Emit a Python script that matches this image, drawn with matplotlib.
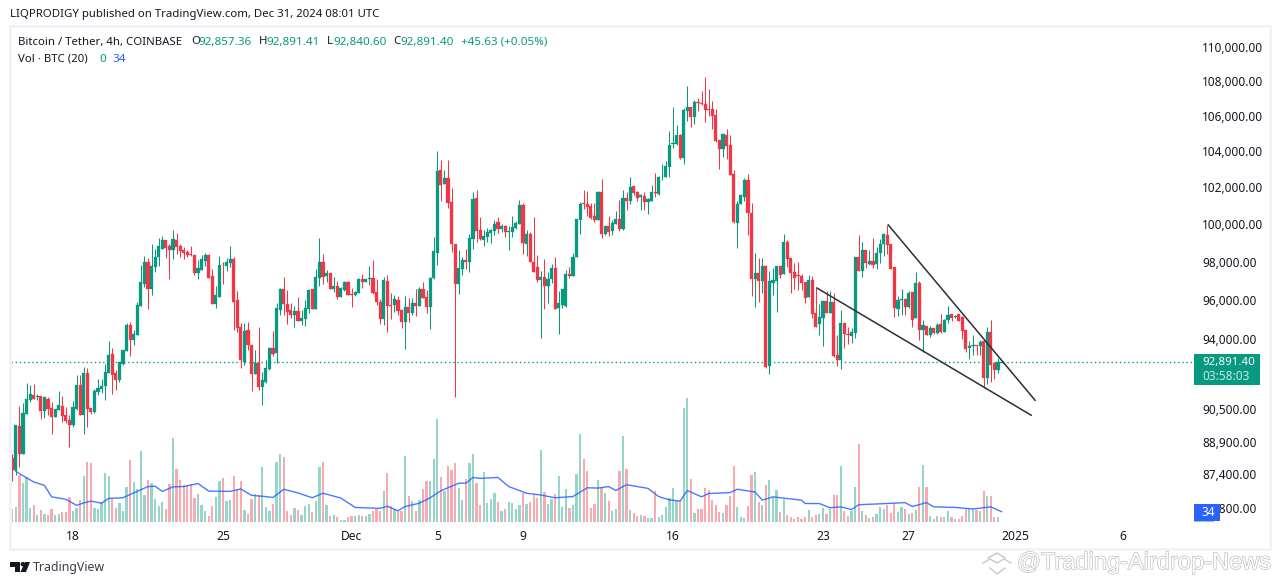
import matplotlib
matplotlib.use("Agg")
import matplotlib.pyplot as plt
import matplotlib.patheffects as pe
import matplotlib.transforms as mtrans
from matplotlib.patches import Rectangle, Polygon, Circle
import numpy as np

opens = [88220,87630,89760,88410,90340,91030,91270,91170,91220,90490,
91080,90640,90200,90540,90730,90290,90050,89810,90590,91760,
90290,92360,90640,90440,91420,91570,91720,92360,93310,92360,
92010,92810,93460,94780,94020,94270,95760,96900,98060,96640,
97800,98320,98740,99230,98910,98690,99230,98910,98690,98580,
98460,98420,97480,97640,98110,98420,97320,95860,96220,97970,
97850,98000,98210,96070,94680,92910,94530,93770,92310,92860,
91670,91910,92560,93610,93360,95550,96640,95860,95550,95290,
95500,94980,95090,95600,96640,95600,97210,98060,97320,97480,
96640,96790,96220,96590,97000,96380,96330,96430,97160,97000,
97180,97210,96480,95970,95090,97050,95790,95810,96070,95550,
94930,95710,95400,95910,95760,96640,96220,95710,97210,98530,
103040,102270,102600,101280,99010,96900,97690,98160,98060,99280,
101500,99760,99230,99390,99600,99710,100190,99820,99980,99670,
99660,99870,100090,101120,99010,99550,98060,97800,97110,97260,
96790,97160,97740,95650,95810,95760,97420,97320,98320,100300,
101230,101170,101060,100520,100300,101830,99550,99980,99710,100090,
100350,99820,101500,101340,102160,101830,101550,101610,101280,101340,
101830,101720,102680,102650,103210,104480,104500,105010,103710,106370,
106600,106030,106870,106810,106780,106470,106490,106140,104720,104210,
105010,104440,102820,100140,101170,101550,102490,100680,97160,97480,
97050,97850,92710,96950,97050,97850,97420,99120,98270,97530,
97370,97320,97000,96220,97110,95400,94830,95140,96020,95400,
95970,93260,93010,94880,94330,94220,94380,98320,97580,98690,
97950,98110,97950,98530,99010,99500,99010,97800,95600,96070,
96120,95710,96480,95140,96950,94530,94730,94270,94630,94380,
94830,94430,95035,95330,95190,95330,95190,94530,93610,93730,
93770,93710,93970,92110,94430,92860,92510,92857]

closes = [87630,89810,88410,90390,91080,91320,91080,91220,90490,91170,
90590,90200,90590,90780,90240,90000,89810,90680,91760,90290,
92360,90590,90440,91470,91620,91720,92410,93260,92260,92010,
92910,93510,94780,94020,94330,95810,97000,98060,96640,97850,
98320,98910,99230,98800,98690,99280,98850,98640,98530,98420,
98420,97480,97740,98210,98420,97210,95860,96330,97900,97930,
98060,98210,95970,94630,93010,94480,93770,92310,92860,91670,
92010,92610,93610,93310,95650,96640,95860,95450,95290,95500,
94980,95140,95650,96590,95600,97260,98060,97260,97480,96640,
96790,96220,96690,97000,96330,96350,96480,97160,97000,97160,
97210,96430,95970,95090,97110,95760,95760,96120,95500,94930,
95710,95400,95910,95760,96640,96170,95710,97210,98640,102990,
102210,102600,101230,99010,96900,97740,98160,98060,99330,101450,
99710,99280,99440,99660,99760,100090,99820,99980,99660,99710,
99920,100140,101120,99070,99550,98060,97530,97110,97260,96790,
97160,97740,95600,95910,96640,97420,97320,98320,100350,101170,
101190,101010,100410,100300,101830,99550,99980,99660,100140,100350,
99820,101500,101340,102100,101770,101500,101660,101280,101450,101830,
101790,102650,102710,103270,104440,104550,105010,103710,106430,106600,
106030,106890,106830,106780,106430,106430,106090,104670,104210,105060,
104380,102770,100190,101170,101660,102490,100680,97160,97480,97050,
97850,92660,97050,97110,97850,97370,99120,98210,97480,97210,
97340,96950,96170,97110,95350,94680,95190,96020,95400,95970,
93210,93010,94880,94330,94260,94430,98320,97580,98690,98000,
98110,97900,98530,99010,99550,98960,97690,95650,96070,96120,
95710,96430,95035,96950,94530,94780,94270,94630,94380,94780,
94430,95035,95290,95140,95240,94980,94480,93560,93710,93770,
93730,93920,92110,94430,92760,92510,92910,92891]

highs = [88410,89810,90730,90880,91860,91760,91810,91320,91220,91170,
91170,90930,90590,91470,91220,90680,90290,90980,92260,92260,
92660,92610,90640,91570,92060,92060,92810,93970,93610,92510,
92910,93510,94880,94930,94530,95970,97900,98370,98270,99010,
98740,99330,99440,99230,99010,99760,99600,99010,98850,98690,
98910,98420,98160,98420,98530,98480,97690,96790,98370,98060,
98270,98910,98320,96530,94880,94880,94930,93770,93510,94680,
92410,93010,93660,94480,95910,96690,97260,96590,95910,95760,
96220,95550,96070,96640,96640,97690,99330,98480,97640,97480,
97260,97050,96740,97050,97050,96690,96530,97210,97420,97160,
97850,98160,97160,96120,97260,97370,96430,96330,96280,95600,
96280,96170,96170,96640,96740,97000,96590,97260,99390,104100,
103600,103040,103600,102050,99010,98690,98320,98740,99550,101830,
101940,100460,99760,99870,99820,100300,100460,100090,100030,99980,
100520,100250,101390,101230,99760,99660,100460,98420,97580,98210,
97530,97950,98320,96530,96640,97640,97800,98530,100350,101280,
101940,101880,101230,101230,101880,102540,99980,100520,100300,100790,
101390,101940,101830,102650,102160,101880,101720,101830,101500,102210,
102880,102710,103380,103550,105230,106600,105570,105060,106550,107810,
106600,107010,107120,107530,108340,107640,106950,106490,104720,105060,
105340,105010,103040,101340,101720,102600,102820,101230,98530,98270,
98270,97900,97580,97740,97850,97850,99550,99230,98270,98000,
98060,97420,97000,97370,97320,96690,95860,96020,96530,96530,
96430,94270,95550,94880,94680,94630,98320,99500,99120,98690,
98690,99330,98850,99280,99600,100030,99010,97800,96280,96640,
96120,96530,96480,97530,97050,95035,94730,94730,94630,94880,
95350,95090,95760,95350,95290,95330,95240,94530,93970,94270,
93770,94020,94020,94680,95035,92910,93110,92891]

lows = [87150,87420,87810,88410,90340,90930,91080,91030,90100,90150,
90290,89370,90200,90540,89950,89900,88750,89710,90540,90290,
89370,89710,90340,90390,91270,91370,91030,92360,91320,91510,
91910,92760,93460,93210,93770,94270,95760,96760,95600,96330,
97530,97850,98740,98270,97160,98210,98480,98320,98210,98320,
98370,97370,97160,97640,97850,97210,95860,95650,96220,96900,
97580,97790,94530,94430,92610,92760,93510,91470,92310,91520,
90780,91860,92510,93210,92860,95290,95290,94830,95140,94680,
94980,94780,94730,95400,95600,95600,96790,96900,97000,96640,
96480,96120,96220,96530,96330,95690,96280,96430,96690,97000,
96850,96380,95810,94830,94780,94430,95090,95450,95290,94630,
93560,94930,95290,95240,95760,96170,95400,94580,97160,97900,
101340,102270,100950,98580,91170,96380,97370,97690,97530,98740,
99120,99230,98910,99120,99070,99500,99600,99660,99390,98690,
99390,99820,100090,98480,98370,98060,97530,97000,94120,95600,
95910,96950,95600,94330,95650,95710,97210,97320,98320,99550,
100900,100520,100350,100190,100300,99330,99500,99440,99500,100090,
99710,99760,100850,101170,101660,101340,100850,100850,100630,101340,
101550,101660,102490,102650,102650,104270,104440,103660,103380,105800,
105460,105620,106370,106720,105740,106090,105340,104610,103100,103770,
103660,102770,100140,98800,101170,101340,99500,96280,95710,95970,
96430,92610,92310,96330,95450,97210,97420,97800,96430,96640,
96590,96590,95910,96220,95140,94680,94270,93710,95400,95400,
93160,92710,92560,93610,93820,93870,94120,97580,97260,97740,
97900,97740,97690,98000,98370,98480,97690,95190,95240,95290,
95290,95650,94680,95140,94020,93410,94270,94170,94330,94330,
94380,94430,94880,94980,95140,94980,94070,93410,93060,93260,
93260,93260,91620,91810,91910,92060,92360,92841]

volumes = [42,48,154,128,147,45,55,22,39,25,
22,42,22,25,32,32,81,35,45,72,
151,197,194,45,42,65,161,151,75,45,
62,35,114,204,131,109,233,88,138,128,
75,53,65,42,124,276,174,138,121,121,
124,78,91,55,35,19,52,81,134,144,
68,72,151,110,134,39,25,75,91,88,
180,48,35,58,197,223,213,35,22,45,
39,24,52,58,32,68,180,197,55,19,
22,15,7,7,17,20,20,23,20,20,
26,36,43,36,102,162,53,43,36,36,
218,86,69,36,73,109,135,135,208,340,
149,102,185,172,195,112,73,142,195,224,
129,56,165,63,76,96,66,36,43,66,
63,43,56,96,59,66,89,79,238,99,
59,76,92,152,50,109,46,56,158,290,
208,168,46,59,139,112,96,69,36,43,
168,284,175,40,30,20,23,20,13,13,
102,17,23,50,78,111,68,68,375,408,
141,29,42,42,111,105,72,55,32,29,
55,85,184,48,15,12,52,154,164,65,
55,121,138,81,105,32,75,22,15,9,
15,9,15,39,15,22,25,45,25,42,
88,88,184,35,19,35,114,256,35,22,
12,15,25,48,42,55,29,62,32,48,
42,25,29,39,114,187,114,19,9,19,
15,15,35,15,9,9,19,42,42,42,
39,35,101,85,85,15,15,1]

# volume moving average: candle number and value
ma_candle = [0,1,4,6,9,11,15,18,20,22,25,27,31,34,38,40,42,45,48,52,55,61,64,67,70,73,76,80,84,87,92,
             96,103,105,108,110,114,117,120,125,127,129,131,136,139,144,148,152,157,161,164,167,169,172,178,181,184,
             187,189,193,195,201,203,208,210,213,221,222,226,229,232,235,237,245,250,252,256,258,264,269,274,277]
ma_value = [186,167,146,132,121,83,75,55,63,69,62,78,80,96,117,118,101,116,117,127,102,101,109,88,85,81,108,96,80,95,79,
            48,45,52,37,51,62,80,103,128,128,147,144,147,117,95,89,80,84,113,112,117,104,123,111,84,73,
            69,104,83,94,97,108,99,72,83,72,61,61,47,50,41,57,61,64,51,64,50,48,43,50,34]

price_ticks = [110000,108000,106000,104000,102000,100000,98000,96000,94000,90500,88900,87400,85800]
date_ticks = [17,59,95,119,143,185,227,251,281,311]
date_labels = ["18","25","Dec","5","9","16","23","27","2025","6"]
last_price = 92891.40

# hand-drawn wedge lines: (candle number, price) at both ends
upper_line_x, upper_line_y = [245.3,286.4],[100030,91011]
lower_line_x, lower_line_y = [225.3,285.3],[96690,90280]

UP="#089981"; DOWN="#F23645"; BLUE="#2962FF"; TXT="#131722"; FRAME="#F0F3FA"
FONT="Noto Sans"
plt.rcParams['font.family']=FONT

W,H=1281,585
fig=plt.figure(figsize=(W/100,H/100),dpi=100,facecolor="white")

bg=fig.add_axes([0,0,1,1]); bg.set_xlim(0,W); bg.set_ylim(H,0); bg.axis("off"); bg.set_zorder(5)
for r in [(9,25,1263,2.5),(9,548,1263,3),(9,25,2.5,526),(1269,25,3,526)]:
    bg.add_patch(Rectangle((r[0],r[1]),r[2],r[3],fc=FRAME,ec="none"))

def rect(l,t,r,b):
    return [l/W,1-b/H,(r-l)/W,(b-t)/H]

pos=rect(11,27,1194,527)
vax=fig.add_axes(pos); vax.patch.set_alpha(0)
ax=fig.add_axes(pos); ax.patch.set_alpha(0)

n=len(opens)
x=np.arange(n)
o,h,l,c=map(np.array,(opens,highs,lows,closes))
up=c>=o
cols=np.where(up,UP,DOWN)
body_low=np.minimum(o,c)
body_size=np.maximum(np.abs(c-o),1)

# volume pane
vax.bar(x,volumes,width=0.62,color=cols,alpha=0.42,linewidth=0)
vax.plot(ma_candle,ma_value,color=BLUE,lw=1.0,alpha=0.85)
vax.set_ylim(-16.5,1633.5)
vax.axis("off")

ax.axhline(last_price,color=UP,lw=1,ls=(0,(1,2)))
ax.vlines(x,l,h,colors=cols,lw=0.75,snap=True)
ax.bar(x,body_size,bottom=body_low,width=0.88,color=cols,edgecolor=cols,linewidth=0.2)
ax.plot(upper_line_x,upper_line_y,color="#2A2E39",lw=1.1)
ax.plot(lower_line_x,lower_line_y,color="#2A2E39",lw=1.1)

ax.set_yscale("log")
ax.set_ylim(85000,111296)
ax.set_xlim(-0.364,330.9)
vax.set_xlim(-0.364,330.9)
ax.yaxis.tick_right()
ax.minorticks_off()
ax.set_yticks(price_ticks)
ax.set_yticklabels([f"{t:,.2f}" for t in price_ticks])
ax.tick_params(axis="y",length=0,pad=5.7,labelsize=8.5,labelcolor=TXT)
ax.set_xticks(date_ticks)
ax.set_xticklabels(date_labels)
ax.tick_params(axis="x",length=0,pad=2.5,labelsize=8.7,labelcolor=TXT)
shift=mtrans.ScaledTranslation(0,1.5/100,fig.dpi_scale_trans)
for lab in ax.get_yticklabels():
    lab.set_transform(lab.get_transform()+shift)
for s in ax.spines.values(): s.set_visible(False)

# header texts
def t(px,py,s,color=TXT,size=8.2,**k):
    bg.text(px,py,s,color=color,fontsize=size,va="center",ha=k.pop("ha","left"),zorder=10,**k)
t(10,15,"LIQPRODIGY published on TradingView.com, Dec 31, 2024 08:01 UTC")
t(18,42,"Bitcoin / Tether, 4h, COINBASE")
for px,lab,val_x,val in [(191,"O",198,"92,857.36"),(259,"H",266,"92,891.41"),(327,"L",333,"92,840.60"),(393,"C",400,"92,891.40")]:
    t(px,42,lab); t(val_x,42,val,color=UP,size=8.4)
t(461,42,"+45.63 (+0.05%)",color=UP,size=8.4)
t(18,59,"Vol · BTC (20)")
t(99,59,"0",color=UP,size=8.4)
t(112,59,"34",color=BLUE,size=8.4)

# price labels
bg.add_patch(Rectangle((1194,354),66,31,fc=UP,ec="none",zorder=8))
t(1202,362,"92,891.40",color="white",fontweight="bold",size=8.3)
t(1202,376,"03:58:03",color="#C6E8E2",size=8.5)
bg.add_patch(Rectangle((1194,504),26,17,fc=BLUE,ec="none",zorder=8))
bg.add_patch(Rectangle((1194,521),20,1,fc="#7FD0C2",ec="none",zorder=8))
t(1202,512.5,"34",color="white",size=8.5)

# TradingView mark
bg.add_patch(Polygon([(10,562),(20,562),(20,572),(15,572),(15,567),(10,567)],fc=TXT,ec="none"))
bg.add_patch(Circle((22.8,564.2),2.2,fc=TXT,ec="none"))
bg.add_patch(Polygon([(25,562),(30,562),(26,572),(20.5,572)],fc=TXT,ec="none"))
t(33,567,"TradingView",color="#3a3e49",size=8.9)

# watermark
bg.text(1017,563,"@Trading-Airdrop-News",color="white",fontsize=17,va="center",ha="left",zorder=10,
        family="Liberation Sans",path_effects=[pe.withStroke(linewidth=0.9,foreground="#b8b8b8")])
for xs,ys in [([988,997,1005],[558,553,558]),
              ([983,990,997,1004,1011],[563,559,563,559,563]),
              ([990,997,1005],[568,574,568])]:
    bg.plot(xs,ys,color="#c8c8c8",lw=1.0,zorder=9)
bg.set_xlim(0,W); bg.set_ylim(H,0)

assert len(opens)==len(closes)==len(highs)==len(lows)==len(volumes)
fig.savefig("out.png",dpi=100)
